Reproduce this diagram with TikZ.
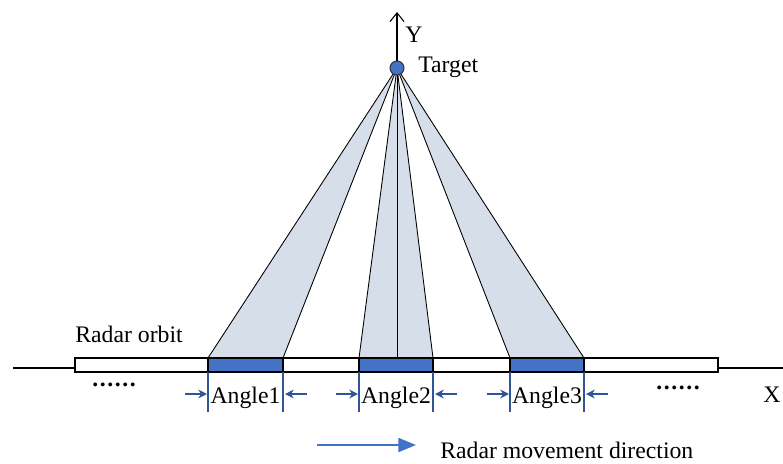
\documentclass[tikz,border=0pt]{standalone}
\usepackage{fontspec}
\setmainfont{Liberation Serif}
\usetikzlibrary{arrows.meta,calc}
\definecolor{segblue}{HTML}{4472C4}
\definecolor{beamfill}{HTML}{D6DEE9}
\definecolor{tickblue}{HTML}{2F5597}
\newcommand{\orbitdots}{\textbf{.\kern0.9pt.\kern0.9pt.\kern0.9pt.\kern0.9pt.\kern0.9pt.}}

\begin{document}
\begin{tikzpicture}[x=0.02cm, y=-0.02cm, >=Stealth, font=\fontsize{13.5}{16}\selectfont]
\useasboundingbox (0,0) rectangle (783,463);

% X axis
\draw[line width=0.6pt] (13,368) coordinate(X0) -- (783,368) coordinate(X1);
\coordinate (T) at (397,68);

% Beams
\foreach \a/\b [count=\i] in {208/283,359/433,510/584} {
  \coordinate (L\i) at (\a,358);
  \coordinate (R\i) at (\b,358);
  \fill[beamfill] (T) -- (L\i) -- (R\i) -- cycle;
  \draw[line width=0.5pt] (T) -- (L\i);
  \draw[line width=0.5pt] (T) -- (R\i);
}
\draw[line width=0.5pt] (T) -- (397,358) coordinate(M);

% Radar orbit
\foreach \a/\b/\c in {75/208/white,208/283/segblue,283/359/white,359/433/segblue,433/510/white,510/584/segblue,584/718/white}
  \draw[line width=1.2pt, fill=\c] (\a,358) rectangle (\b,372);

% Y axis and target
\draw[-{Straight Barb[length=5pt,width=8pt]}, line width=0.6pt] (T) -- (397,12) coordinate(Ytop);
\node[circle, draw=black!80, fill=segblue, line width=0.6pt, inner sep=0pt, minimum size=0.28cm] (tgt) at (T) {};
\node[anchor=base west, inner sep=0pt] (ylab) at (405,42) {Y};
\node[anchor=base west, inner sep=0pt] (tlab) at (418,72) {Target};

% Angle marks
\foreach \a/\b/\n in {208/283/1,359/433/2,510/584/3} {
  \draw[tickblue, line width=0.6pt] (\a,372) -- (\a,412);
  \draw[tickblue, line width=0.6pt] (\b,372) -- (\b,412);
  \node[anchor=base, inner sep=0pt] (ang\n) at ({(\a+\b)/2},403) {Angle\n};
  \draw[-{Stealth[length=5pt,width=5pt]}, tickblue, line width=0.6pt] (\a-23,394) -- (\a-1,394);
  \draw[-{Stealth[length=5pt,width=5pt]}, tickblue, line width=0.6pt] (\b+24,394) -- (\b+2,394);
}

% Labels
\node[anchor=base west, inner sep=0pt] (orbit) at (75,342) {Radar orbit};
\node[anchor=base west, inner sep=0pt] (dl) at (92,386) {\orbitdots};
\node[anchor=base west, inner sep=0pt] (dr) at (656,389) {\orbitdots};
\node[anchor=base west, inner sep=0pt] (xlab) at (763,402) {X};

% Movement direction
\coordinate (D0) at (317,445);
\coordinate (D1) at (416,445);
\draw[-{Triangle[length=10pt,width=8pt]}, segblue, line width=0.8pt] (D0) -- (D1);
\node[anchor=base west, inner sep=0pt] (mdir) at (440,458) {Radar movement direction};
\end{tikzpicture}
\end{document}
